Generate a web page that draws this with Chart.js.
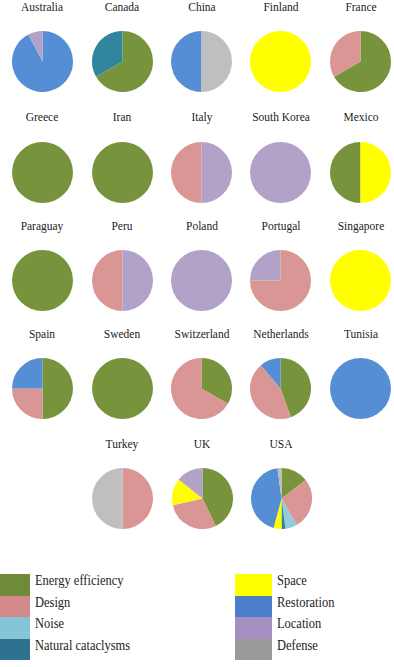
<!DOCTYPE html>
<html>
<head>
<meta charset="utf-8">
<script src="https://cdn.jsdelivr.net/npm/chart.js@4"></script>
<style>
  html, body { margin: 0; padding: 0; background: #fff; }
  #wrap { position: relative; width: 394px; height: 667px; overflow: hidden; font-family: "Liberation Serif", "DejaVu Serif", serif; color: #222; }
  .ttl { position: absolute; width: 110px; text-align: center; font-size: 13.5px; line-height: 14px; white-space: nowrap; transform: scaleX(0.85); transform-origin: center; }
  canvas.pie { position: absolute; }
  .sw { position: absolute; }
  .lt { position: absolute; font-size: 14px; line-height: 14px; white-space: nowrap; transform: scaleX(0.89); transform-origin: left; }
</style>
</head>
<body>
<div id="wrap"></div>
<script>
// ---- data ----
const countries = ["Australia","Canada","China","Finland","France",
  "Greece","Iran","Italy","South Korea","Mexico",
  "Paraguay","Peru","Poland","Portugal","Singapore",
  "Spain","Sweden","Switzerland","Netherlands","Tunisia",
  "Turkey","UK","USA"];
const categories = ["Energy efficiency","Design","Noise","Natural cataclysms","Space","Restoration","Location","Defense"];
const energyEfficiency = [0,2,0,0,2, 1,1,0,0,1, 1,0,0,0,0, 2,1,1,4,0, 0,3,7];
const design           = [0,0,0,0,1, 0,0,1,0,0, 0,1,0,3,0, 1,0,2,4,0, 1,2,13];
const noise            = [0,0,0,0,0, 0,0,0,0,0, 0,0,0,0,0, 0,0,0,0,0, 0,0,3];
const naturalCataclysms= [0,1,0,0,0, 0,0,0,0,0, 0,0,0,0,0, 0,0,0,0,0, 0,0,1];
const space            = [0,0,0,1,0, 0,0,0,0,1, 0,0,0,0,1, 0,0,0,0,0, 0,1,2];
const restoration      = [12,0,1,0,0, 0,0,0,0,0, 0,0,0,0,0, 1,0,0,1,1, 0,0,21];
const locationValues   = [1,0,0,0,0, 0,0,1,1,0, 0,1,1,1,0, 0,0,0,0,0, 0,1,0];
const defense          = [0,0,1,0,0, 0,0,0,0,0, 0,0,0,0,0, 0,0,0,0,0, 1,0,1];
const series = [energyEfficiency, design, noise, naturalCataclysms, space, restoration, locationValues, defense];

// ---- styles ----
const pieColors    = ["#77933C","#D99694","#93CDDD","#31859C","#FFFF00","#558ED5","#B3A2C7","#BFBFBF"];
const legendColors = ["#6F8B3A","#D48A8A","#86C5D8","#2E7290","#FFFF00","#4A7DCA","#A48FC1","#9A9A9A"];
const colX = [42, 122, 201.5, 280.5, 360.5];
const rowY = [61.5, 172, 280.5, 388.5, 498.5];
const lastRowX = [122, 202, 281];
const startFromBottom = ["China","Mexico","Italy","Peru"];
const D = 61;

const wrap = document.getElementById('wrap');

countries.forEach((name, i) => {
  const r = Math.floor(i / 5), c = i % 5;
  const cx = r < 4 ? colX[c] : lastRowX[c];
  const cy = rowY[r];
  const t = document.createElement('div');
  t.className = 'ttl';
  t.textContent = name;
  t.style.left = (cx - 55) + 'px';
  t.style.top = (cy - 50.5 - 11.5) + 'px';
  wrap.appendChild(t);

  const cv = document.createElement('canvas');
  cv.className = 'pie';
  cv.width = D; cv.height = D;
  cv.style.width = D + 'px'; cv.style.height = D + 'px';
  cv.style.left = (cx - D / 2) + 'px';
  cv.style.top = (cy - D / 2) + 'px';
  wrap.appendChild(cv);

  new Chart(cv, {
    type: 'pie',
    data: {
      labels: categories,
      datasets: [{
        data: series.map(s => s[i]),
        backgroundColor: pieColors,
        borderWidth: 0,
        hoverOffset: 0,
        offset: 0
      }]
    },
    options: {
      responsive: false,
      animation: false,
      events: [],
      rotation: startFromBottom.includes(name) ? 180 : 0,
      layout: { padding: 0 },
      plugins: { legend: { display: false }, tooltip: { enabled: false }, title: { display: false } }
    }
  });
});

// ---- legend ----
categories.forEach((cat, k) => {
  const col = Math.floor(k / 4), row = k % 4;
  const top = 574 + row * 21.5;
  const sw = document.createElement('div');
  sw.className = 'sw';
  sw.style.left = (col === 0 ? 0 : 235) + 'px';
  sw.style.width = (col === 0 ? 30 : 37) + 'px';
  sw.style.top = top + 'px';
  sw.style.height = '21.5px';
  sw.style.background = legendColors[k];
  wrap.appendChild(sw);
  const lt = document.createElement('div');
  lt.className = 'lt';
  lt.textContent = cat;
  lt.style.left = (col === 0 ? 35 : 277) + 'px';
  lt.style.top = (top + 0.3) + 'px';
  wrap.appendChild(lt);
});
</script>
</body>
</html>
